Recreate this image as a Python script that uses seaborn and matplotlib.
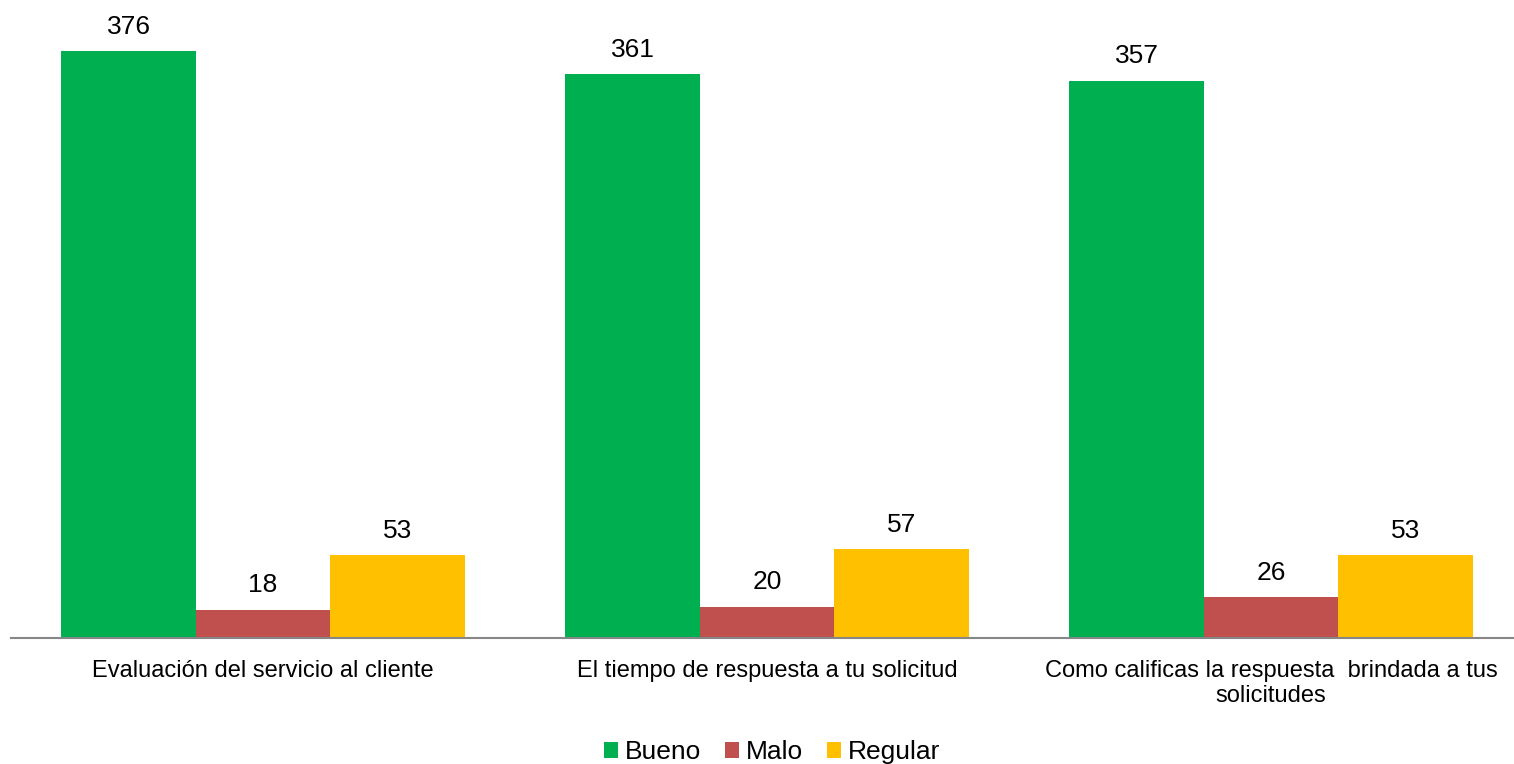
import matplotlib
matplotlib.use("Agg")
import matplotlib.pyplot as plt
import seaborn as sns
import pandas as pd

categories = ["Evaluación del servicio al cliente",
              "El tiempo de respuesta a tu solicitud",
              "Como calificas la respuesta  brindada a tus\nsolicitudes"]
series = ["Bueno", "Malo", "Regular"]
bueno = [376, 361, 357]
malo = [18, 20, 26]
regular = [53, 57, 53]
colors = ["#00B050", "#C0504D", "#FFC000"]

rows = []
for i, c in enumerate(categories):
    for s, vals in zip(series, [bueno, malo, regular]):
        rows.append({"cat": c, "serie": s, "val": vals[i]})
df = pd.DataFrame(rows)

sns.set_theme(style="white")
plt.rcParams["font.family"] = ["Liberation Sans", "DejaVu Sans"]
plt.rcParams["text.color"] = "black"
plt.rcParams["xtick.color"] = "black"

fig = plt.figure(figsize=(15.14, 7.64), dpi=100)
ax = fig.add_axes([11/1514, (764-638)/764, 1 - 11/1514, (638-13.6)/764])
sns.barplot(data=df, x="cat", y="val", hue="serie", palette=colors,
            order=categories, hue_order=series, width=0.8, saturation=1,
            ax=ax, legend=True, edgecolor="none")

for cont in ax.containers:
    ax.bar_label(cont, fmt="%d", padding=9, fontsize=19, color="black")

ax.set_xlim(-0.5, 2.482)
ax.set_ylim(0, 400)
ax.set_xlabel("")
ax.set_ylabel("")
ax.set_yticks([])
for sp in ["top", "right", "left"]:
    ax.spines[sp].set_visible(False)
ax.spines["bottom"].set_color("#868686")
ax.spines["bottom"].set_linewidth(1.5)
ax.tick_params(axis="x", length=0, labelsize=17, pad=15.5, labelcolor="black")

h, l = ax.get_legend_handles_labels()
ax.legend_.remove()
fig.legend(h, l, loc="center", bbox_to_anchor=(772/1514, 1 - 752/764),
           ncol=3, frameon=False, fontsize=19, handlelength=0.55,
           handleheight=0.55, handletextpad=0.25, columnspacing=0.9)

fig.savefig("out.png", dpi=100)
